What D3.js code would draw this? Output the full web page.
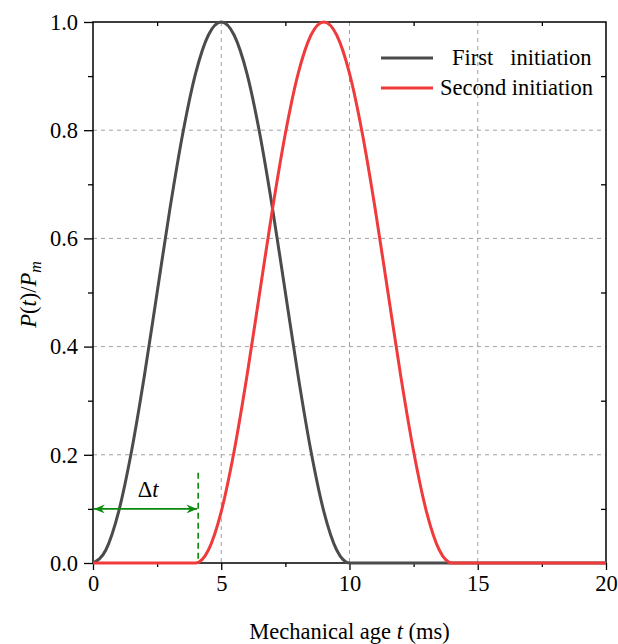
<!DOCTYPE html>
<html>
<head>
<meta charset="utf-8">
<script src="https://cdn.jsdelivr.net/npm/d3@7"></script>
<style>
  body { margin: 0; background: #fff; }
  text { font-family: "Liberation Serif", "Times New Roman", serif; }
</style>
</head>
<body>
<svg id="drawing_region"></svg>
<script>
// time (ms)
var times = [0, 0.5, 1, 1.5, 2, 2.5, 3, 3.5, 4, 4.5, 5, 5.5, 6, 6.5, 7, 7.5, 8, 8.5, 9, 9.5, 10,
             10.5, 11, 11.5, 12, 12.5, 13, 13.5, 14, 14.5, 15, 15.5, 16, 16.5, 17, 17.5, 18, 18.5, 19, 19.5, 20];
var firstInit = [0, 0.024, 0.095, 0.206, 0.345, 0.5, 0.655, 0.794, 0.905, 0.976, 1, 0.976, 0.905, 0.794, 0.655, 0.5, 0.345, 0.206, 0.095, 0.024, 0,
                 0, 0, 0, 0, 0, 0, 0, 0, 0, 0, 0, 0, 0, 0, 0, 0, 0, 0, 0, 0];
var secondInit = [0, 0, 0, 0, 0, 0, 0, 0, 0, 0.024, 0.095, 0.206, 0.345, 0.5, 0.655, 0.794, 0.905, 0.976, 1, 0.976, 0.905,
                  0.794, 0.655, 0.5, 0.345, 0.206, 0.095, 0.024, 0, 0, 0, 0, 0, 0, 0, 0, 0, 0, 0, 0, 0];
var seriesNames = ['First   initiation', 'Second initiation'];
var seriesColors = ['#4b4b4b', '#ef3b3b'];
var xTicks = [0, 5, 10, 15, 20];
var xMinor = [2.5, 7.5, 12.5, 17.5];
var yTicks = [0, 0.2, 0.4, 0.6, 0.8, 1.0];
var yMinor = [0.1, 0.3, 0.5, 0.7, 0.9];
var deltaT = 4.1;

var fs = '22.5px';
var margin = { top: 22, right: 12, bottom: 81, left: 93 };
var width = 618 - margin.left - margin.right;
var height = 644 - margin.top - margin.bottom;

var root = d3.select('#drawing_region')
    .attr('width', 618)
    .attr('height', 644);
var svg = root.append('g')
    .attr('transform', 'translate(' + margin.left + ',' + margin.top + ')');

var xScale = d3.scaleLinear().domain([0, 20]).range([0, width]);
var yScale = d3.scaleLinear().domain([0, 1]).range([height, 0]);

// grid
svg.selectAll('.vgrid')
    .data(xTicks.filter(d => d > 0 && d < 20))
    .enter().append('line')
    .attr('x1', d => xScale(d)).attr('x2', d => xScale(d))
    .attr('y1', 0).attr('y2', height)
    .attr('stroke', '#a0a0a0').attr('stroke-width', 1).attr('stroke-dasharray', '4,4');
svg.selectAll('.hgrid')
    .data(yTicks.filter(d => d > 0 && d < 1))
    .enter().append('line')
    .attr('x1', 0).attr('x2', width)
    .attr('y1', d => yScale(d)).attr('y2', d => yScale(d))
    .attr('stroke', '#a0a0a0').attr('stroke-width', 1).attr('stroke-dasharray', '4,4');

// axes
var xAxis = svg.append('g')
    .attr('transform', 'translate(0,' + height + ')')
    .call(d3.axisBottom(xScale).tickValues(xTicks).tickSize(7).tickPadding(5).tickFormat(d3.format('d')));
var xMinorAxis = svg.append('g')
    .attr('transform', 'translate(0,' + height + ')')
    .call(d3.axisBottom(xScale).tickValues(xMinor).tickSize(4).tickFormat(''));
var yAxis = svg.append('g')
    .call(d3.axisLeft(yScale).tickValues(yTicks).tickSize(9).tickPadding(6).tickFormat(d3.format('.1f')));
var yMinorAxis = svg.append('g')
    .call(d3.axisLeft(yScale).tickValues(yMinor).tickSize(5).tickFormat(''));
var topAxis = svg.append('g')
    .call(d3.axisBottom(xScale).tickValues(xMinor).tickSize(4).tickFormat(''));
var rightAxis = svg.append('g')
    .attr('transform', 'translate(' + width + ',0)')
    .call(d3.axisLeft(yScale).tickValues(yMinor).tickSize(5).tickFormat(''));

[xAxis, xMinorAxis, yAxis, yMinorAxis, topAxis, rightAxis].forEach(function(g) {
    g.select('.domain').remove();
    g.selectAll('line').attr('stroke', '#000').attr('stroke-width', 1.3);
    g.selectAll('text').attr('font-size', fs).attr('fill', '#000')
        .style('font-family', '"Liberation Serif", serif');
});

svg.append('rect')
    .attr('x', 0).attr('y', 0).attr('width', width).attr('height', height)
    .attr('fill', 'none').attr('stroke', '#000').attr('stroke-width', 1.5);

// curves
var series = [firstInit, secondInit];
var line = d3.line()
    .x((d, i) => xScale(times[i]))
    .y(d => yScale(d))
    .curve(d3.curveMonotoneX);

svg.selectAll('.curve')
    .data(series)
    .enter().append('path')
    .attr('d', d => line(d))
    .attr('fill', 'none')
    .attr('stroke', (d, i) => seriesColors[i])
    .attr('stroke-width', 3);

// delta t annotation
var green = '#0a8a0a';
svg.append('line')
    .attr('x1', xScale(deltaT)).attr('x2', xScale(deltaT))
    .attr('y1', yScale(0.167)).attr('y2', height)
    .attr('stroke', green).attr('stroke-width', 1.6).attr('stroke-dasharray', '6,4');

var defs = root.append('defs');
defs.append('marker')
    .attr('id', 'arrowhead')
    .attr('viewBox', '0 0 12 10')
    .attr('refX', 12).attr('refY', 5)
    .attr('markerWidth', 16).attr('markerHeight', 9)
    .attr('markerUnits', 'userSpaceOnUse')
    .attr('orient', 'auto-start-reverse')
    .append('path')
    .attr('d', 'M0,0 L12,5 L0,10 L4,5 Z')
    .attr('fill', green);

svg.append('line')
    .attr('x1', xScale(0) + 1).attr('x2', xScale(deltaT) - 1)
    .attr('y1', yScale(0.1)).attr('y2', yScale(0.1))
    .attr('stroke', green).attr('stroke-width', 1.6)
    .attr('marker-start', 'url(#arrowhead)')
    .attr('marker-end', 'url(#arrowhead)');

var dt = svg.append('text')
    .attr('x', xScale(2.15)).attr('y', yScale(0.122))
    .attr('text-anchor', 'middle')
    .attr('font-size', fs);
dt.append('tspan').text('\u0394');
dt.append('tspan').attr('font-style', 'italic').text('t');

// legend
var legend = svg.selectAll('.legend')
    .data(seriesNames)
    .enter().append('g')
    .attr('transform', (d, i) => 'translate(' + (381 - margin.left) + ',' + (58 - margin.top + i * 30) + ')');
legend.append('line')
    .attr('x1', 0).attr('x2', 52)
    .attr('stroke', (d, i) => seriesColors[i]).attr('stroke-width', 3);
legend.append('text')
    .attr('x', (d, i) => i === 0 ? 71 : 59)
    .attr('y', 7)
    .attr('font-size', fs)
    .style('white-space', 'pre')
    .attr('xml:space', 'preserve')
    .text(d => d);

// axis titles
var xt = root.append('text')
    .attr('x', margin.left + width / 2)
    .attr('y', 639)
    .attr('text-anchor', 'middle')
    .attr('font-size', fs);
xt.append('tspan').text('Mechanical age ');
xt.append('tspan').attr('font-style', 'italic').text('t');
xt.append('tspan').text(' (ms)');

var yt = root.append('text')
    .attr('transform', 'translate(36,' + (margin.top + height / 2 + 2) + ') rotate(-90)')
    .attr('text-anchor', 'middle')
    .attr('font-size', fs);
yt.append('tspan').attr('font-style', 'italic').text('P');
yt.append('tspan').text('(');
yt.append('tspan').attr('font-style', 'italic').text('t');
yt.append('tspan').text(')/');
yt.append('tspan').attr('font-style', 'italic').text('P');
yt.append('tspan').attr('font-style', 'italic').attr('font-size', '16px').attr('dy', 5).text('m');
</script>
</body>
</html>
